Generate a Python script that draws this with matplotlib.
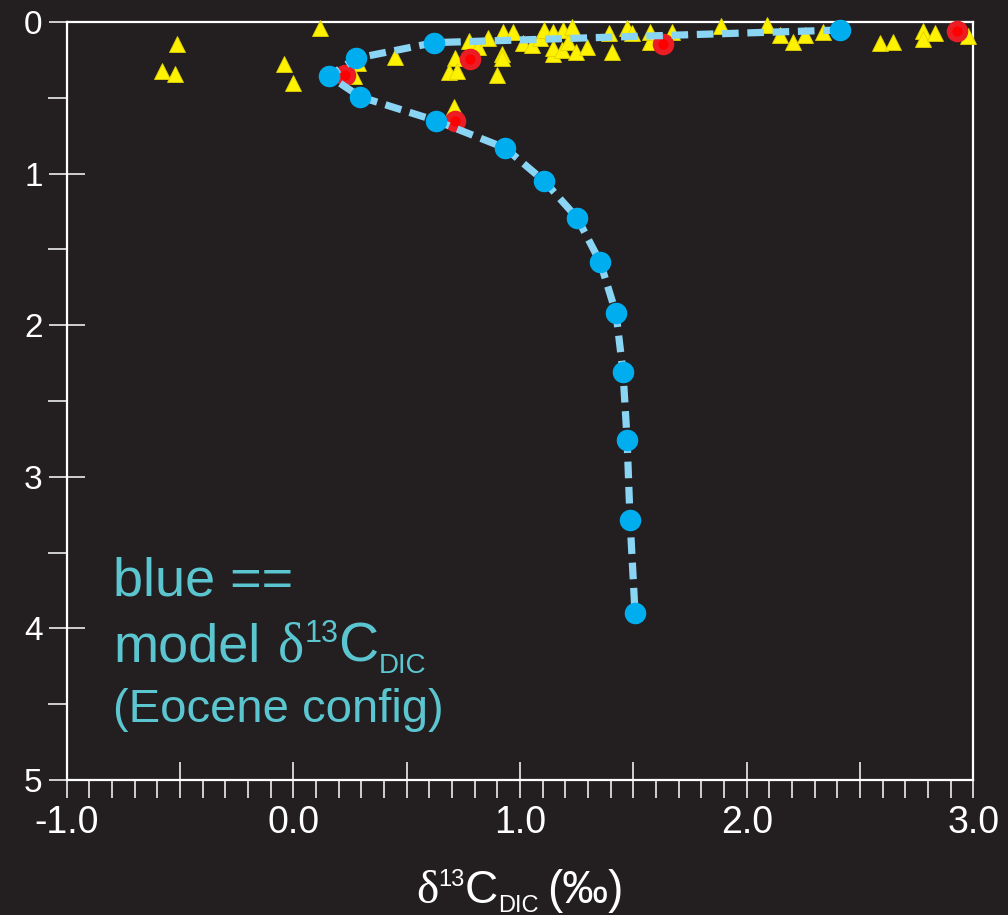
import matplotlib
matplotlib.use('Agg')
import matplotlib.pyplot as plt
from matplotlib.ticker import MultipleLocator, FuncFormatter
from matplotlib.transforms import IdentityTransform

# ---------------- data ----------------
model_x = [2.41, 0.622, 0.275, 0.158, 0.294, 0.629, 0.934, 1.106, 1.252, 1.353,
           1.423, 1.454, 1.472, 1.485, 1.507]
model_y = [0.053, 0.136, 0.24, 0.356, 0.493, 0.651, 0.831, 1.049, 1.293, 1.583,
           1.92, 2.309, 2.757, 3.285, 3.898]

red_x = [0.228, 0.781, 0.713, 1.632, 2.926]
red_y = [0.35, 0.244, 0.651, 0.145, 0.057]

tri_x = [-0.512, -0.580, -0.521, 0.119, -0.041, -0.002, 0.266, 0.286, 0.448, 0.714,
         0.688, 0.720, 0.707, 0.776, 0.814, 0.860, 0.926, 0.967, 0.919, 0.919,
         0.897, 1.014, 1.051, 1.088, 1.105, 1.147, 1.188, 1.228, 1.144, 1.147,
         1.184, 1.213, 1.247, 1.294, 1.393, 1.404, 1.470, 1.492, 1.573, 1.573,
         1.669, 1.885, 2.088, 2.147, 2.205, 2.257, 2.337, 2.588, 2.646, 2.779,
         2.776, 2.830, 2.977]
tri_y = [0.147, 0.323, 0.345, 0.037, 0.279, 0.400, 0.356, 0.270, 0.229, 0.240,
         0.328, 0.321, 0.563, 0.123, 0.163, 0.108, 0.068, 0.064, 0.213, 0.240,
         0.350, 0.140, 0.151, 0.108, 0.053, 0.064, 0.053, 0.031, 0.213, 0.174,
         0.185, 0.130, 0.196, 0.163, 0.075, 0.196, 0.042, 0.070, 0.130, 0.064,
         0.064, 0.026, 0.020, 0.086, 0.130, 0.086, 0.064, 0.140, 0.130, 0.057,
         0.114, 0.075, 0.092]

x_limits = (-1.0, 3.0)
y_limits = (5.0, 0.0)

# ---------------- style ----------------
BG = '#231F20'
SANS = 'Liberation Sans'
SERIF = 'Liberation Serif'
CYAN = '#5BC6D0'
plt.rcParams['axes.unicode_minus'] = False
plt.rcParams['font.family'] = [SANS, 'DejaVu Sans']

W, H = 1008, 915
fig = plt.figure(figsize=(W / 100, H / 100), dpi=100, facecolor=BG)
ax = fig.add_axes([66.7 / W, 1 - 780 / H, (973.5 - 66.7) / W, (780 - 22) / H])
ax.set_facecolor(BG)

ax.plot(tri_x, tri_y, ls='none', marker='^', ms=11, mfc='#FFF200', mec='#E2D300',
        mew=0.6, clip_on=False, zorder=3)
ax.plot(red_x, red_y, ls='none', marker='o', ms=11.5, mfc='#FF0000', mec='#EC1C24',
        mew=4, clip_on=False, zorder=4)
ax.plot(model_x, model_y, color='#8AD4F4', lw=5.2, ls=(0, (2.3, 1.2)), zorder=5)
ax.plot(model_x, model_y, ls='none', marker='o', ms=15.5, mfc='#00AEEF', mec='none',
        clip_on=False, zorder=6)

ax.set_xlim(*x_limits)
ax.set_ylim(*y_limits)

for sp in ax.spines.values():
    sp.set_color('white')
    sp.set_linewidth(1.6)

ax.xaxis.set_major_locator(MultipleLocator(0.5))
ax.xaxis.set_minor_locator(MultipleLocator(0.1))
ax.xaxis.set_major_formatter(FuncFormatter(
    lambda v, p: (f'{v:.1f}' if abs(v - round(v)) < 1e-6 else '')))
ax.yaxis.set_major_locator(MultipleLocator(1))
ax.yaxis.set_minor_locator(MultipleLocator(0.5))
ax.yaxis.set_major_formatter(FuncFormatter(lambda v, p: f'{int(round(v))}'))

ax.tick_params(axis='x', which='major', direction='inout', length=26.6, width=1.1,
               color='white', labelcolor='white', labelsize=27, pad=4.5)
ax.tick_params(axis='x', which='minor', direction='out', length=13, width=1.1,
               color='white')
ax.tick_params(axis='y', which='major', direction='inout', length=26.6, width=1.1,
               color='white', labelcolor='white', labelsize=24, pad=4)
ax.tick_params(axis='y', which='minor', direction='out', length=13.5, width=1.1,
               color='white')
for lab in ax.get_xticklabels() + ax.get_yticklabels():
    lab.set_family(SANS)

renderer = fig.canvas.get_renderer()


def rich(x_left, y_top_base, pieces, color, center=False):
    """Draw text pieces side by side. pieces: (text, size, family, dy_px) or ('GAP', px)."""
    arts = []
    total = 0
    for pc in pieces:
        if pc[0] == 'GAP':
            arts.append(('GAP', pc[1]))
            total += pc[1]
            continue
        s, size, fam, dy = pc
        t = fig.text(0, 0, s, fontsize=size, family=[fam, 'DejaVu Sans'], color=color,
                     va='baseline', ha='left', transform=IdentityTransform())
        w = t.get_window_extent(renderer).width
        arts.append((t, w, dy))
        total += w
    x = x_left - total / 2 if center else x_left
    yb = H - y_top_base
    for a in arts:
        if a[0] == 'GAP':
            x += a[1]
            continue
        t, w, dy = a
        t.set_position((x, yb + dy))
        x += w


# x-axis label
rich(520, 903, [('δ', 34, SERIF, 0), ('13', 17, SANS, 17), ('C', 33, SANS, 0),
                ('DIC', 17, SANS, -9), ('GAP', 9), ('(‰)', 33, SANS, 0)],
     'white', center=True)

# annotation
rich(113, 595, [('blue ==', 39, SANS, 0)], CYAN)
rich(113, 662, [('model', 39, SANS, 0), ('GAP', 18), ('δ', 40, SERIF, 0),
                ('13', 22, SANS, 20), ('C', 40, SANS, 0), ('DIC', 20, SANS, -11)],
     CYAN)
rich(113, 722, [('(Eocene config)', 34, SANS, 0)], CYAN)

fig.savefig('out.png', dpi=100, facecolor=BG)
